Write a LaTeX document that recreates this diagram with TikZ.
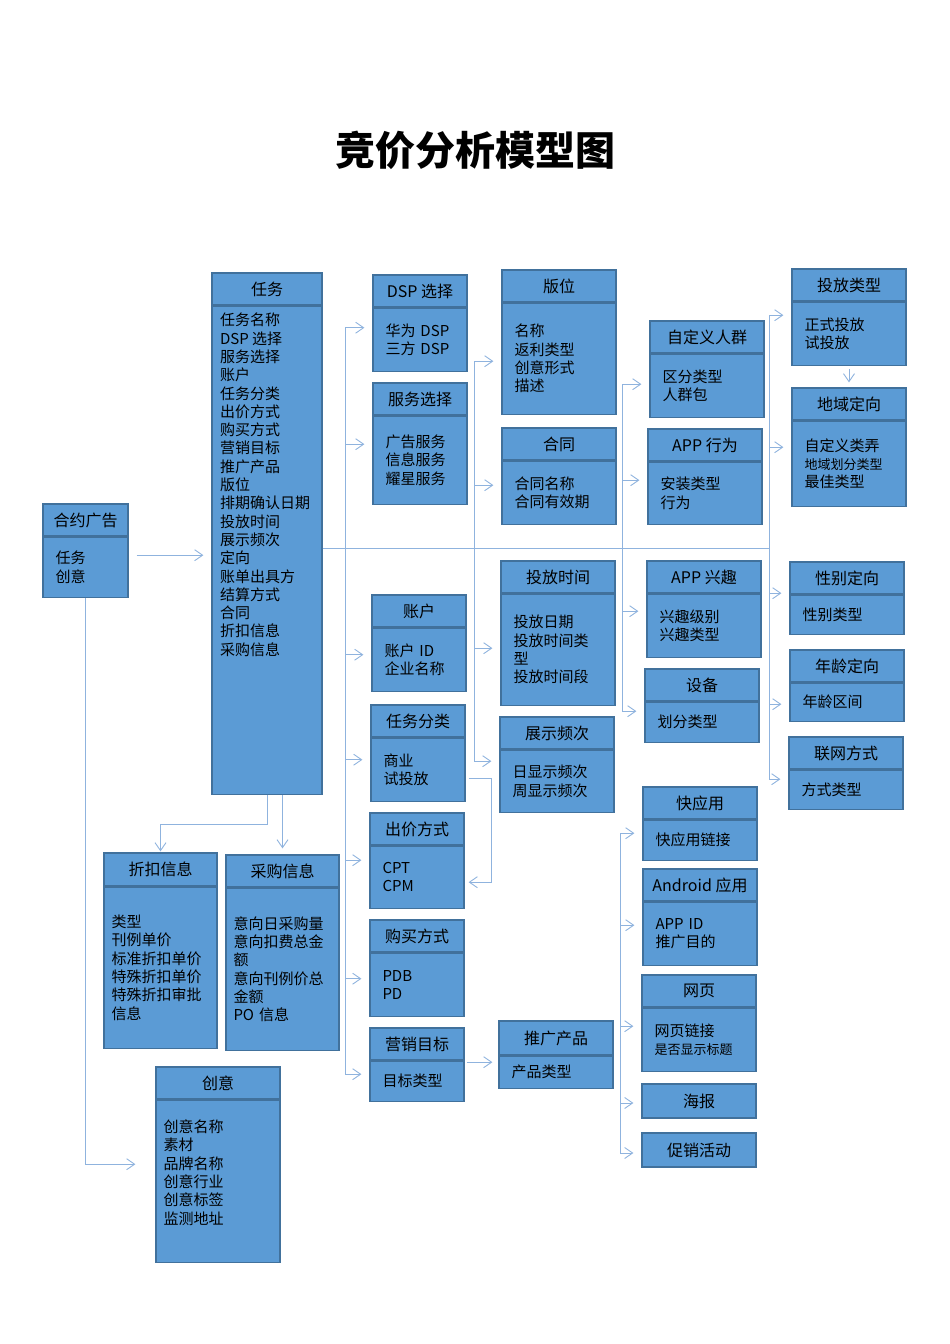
\documentclass[tikz,border=0pt]{standalone}
\usepackage{fontspec}
\setmainfont{Noto Sans CJK SC}
\usetikzlibrary{arrows.meta}
\definecolor{cardfill}{HTML}{5B9BD5}
\definecolor{cardedge}{HTML}{41719C}
\definecolor{linkblue}{HTML}{8FB3DE}
\tikzset{
  cardhead/.style={draw=cardedge, fill=cardfill, rectangle, line width=1.2pt, minimum height=32pt, inner sep=0pt, font=\fontsize{16}{19}\selectfont},
  cardbody/.style={draw=cardedge, fill=cardfill, rectangle, line width=1.2pt, anchor=north, align=left, inner xsep=12.5pt, inner ysep=0pt, font=\fontsize{15}{18.3}\selectfont},
  trunk/.style={draw=linkblue, line width=0.9pt},
  link/.style={trunk, -{Straight Barb[length=8pt,width=11pt]}, shorten >=8pt}
}

\begin{document}
\begin{tikzpicture}[x=1pt,y=-1pt]
    \useasboundingbox (0,0) rectangle (950,1344);
    \node[font=\fontsize{40}{48}\selectfont\bfseries] (title) at (475,150) {竞价分析模型图};

    % left column
    \node[cardhead, minimum width=85pt] (hy) at (85.5,520) {合约广告};
    \node[cardbody, text width=60pt, minimum height=60pt] (hyb) at (hy.south) {任务\\创意};
    \node[cardhead, minimum width=110pt] (rw) at (267,289) {任务};
    \node[cardbody, inner xsep=8pt, inner ysep=7pt, minimum height=488pt] (rwb) at (rw.south) {\parbox[t][474pt][t]{94pt}{\raggedright
      任务名称\\DSP 选择\\服务选择\\账户\\任务分类\\出价方式\\购买方式\\营销目标\\推广产品\\版位\\排期确认日期\\投放时间\\展示频次\\定向\\账单出具方\\结算方式\\合同\\折扣信息\\采购信息}};
    \node[cardhead, minimum width=113pt, minimum height=33pt] (zk) at (160.5,869.5) {折扣信息};
    \node[cardbody, inner xsep=7.5pt, text width=98pt, minimum height=161pt] (zkb) at (zk.south) {类型\\刊例单价\\标准折扣单价\\特殊折扣单价\\特殊折扣审批\\信息};
    \node[cardhead, minimum width=113pt] (cg) at (282.5,871) {采购信息};
    \node[cardbody, inner xsep=7.5pt, text width=98pt, minimum height=162pt] (cgb) at (cg.south) {意向日采购量\\意向扣费总金\\额\\意向刊例价总\\金额\\PO 信息};
    \node[cardhead, minimum width=124pt] (cy) at (218,1083) {创意};
    \node[cardbody, inner xsep=7.5pt, text width=109pt, minimum height=162pt] (cyb) at (cy.south) {创意名称\\素材\\品牌名称\\创意行业\\创意标签\\监测地址\\\mbox{}};

    % second column
    \node[cardhead, minimum width=94pt] (dsp) at (420,291) {DSP 选择};
    \node[cardbody, text width=69pt, minimum height=63pt] (dspb) at (dsp.south) {华为 DSP\\三方 DSP};
    \node[cardhead, minimum width=94pt] (fw) at (420,399) {服务选择};
    \node[cardbody, text width=69pt, minimum height=88pt] (fwb) at (fw.south) {广告服务\\信息服务\\耀星服务};
    \node[cardhead, minimum width=94pt] (zh) at (419,611) {账户};
    \node[cardbody, text width=69pt, minimum height=63pt] (zhb) at (zh.south) {账户 ID\\企业名称};
    \node[cardhead, minimum width=94pt] (fl) at (418,721) {任务分类};
    \node[cardbody, text width=69pt, minimum height=63pt] (flb) at (fl.south) {商业\\试投放};
    \node[cardhead, minimum width=94pt] (cj) at (417,829) {出价方式};
    \node[cardbody, text width=69pt, minimum height=62pt] (cjb) at (cj.south) {CPT\\CPM};
    \node[cardhead, minimum width=94pt] (gm) at (417,936) {购买方式};
    \node[cardbody, text width=69pt, minimum height=63pt] (gmb) at (gm.south) {PDB\\PD};
    \node[cardhead, minimum width=94pt] (yx) at (417,1044) {营销目标};
    \node[cardbody, text width=69pt, minimum height=40pt] (yxb) at (yx.south) {目标类型};

    % third column
    \node[cardhead, minimum width=114pt] (bw) at (559,286) {版位};
    \node[cardbody, text width=89pt, minimum height=111pt] (bwb) at (bw.south) {名称\\返利类型\\创意形式\\描述};
    \node[cardhead, minimum width=114pt] (ht) at (559,444) {合同};
    \node[cardbody, text width=89pt, minimum height=63pt] (htb) at (ht.south) {合同名称\\合同有效期};
    \node[cardhead, minimum width=114pt] (tfsj) at (558,577) {投放时间};
    \node[cardbody, text width=89pt, minimum height=111pt] (tfsjb) at (tfsj.south) {投放日期\\投放时间类\\型\\投放时间段};
    \node[cardhead, minimum width=114pt] (zs) at (557,733) {展示频次};
    \node[cardbody, text width=89pt, minimum height=62pt] (zsb) at (zs.south) {日显示频次\\周显示频次};
    \node[cardhead, minimum width=114pt, minimum height=34pt] (tg) at (556,1038) {推广产品};
    \node[cardbody, text width=89pt, minimum height=32pt] (tgb) at (tg.south) {产品类型};

    % fourth column
    \node[cardhead, minimum width=114pt] (zdy) at (707,337) {自定义人群};
    \node[cardbody, text width=89pt, minimum height=63pt] (zdyb) at (zdy.south) {区分类型\\人群包};
    \node[cardhead, minimum width=114pt] (xw) at (705,445) {APP 行为};
    \node[cardbody, text width=89pt, minimum height=62pt] (xwb) at (xw.south) {安装类型\\行为};
    \node[cardhead, minimum width=114pt] (xq) at (704,577) {APP 兴趣};
    \node[cardbody, text width=89pt, minimum height=63pt] (xqb) at (xq.south) {兴趣级别\\兴趣类型};
    \node[cardhead, minimum width=114pt] (sb) at (702,685) {设备};
    \node[cardbody, text width=89pt, minimum height=40pt] (sbb) at (sb.south) {划分类型};
    \node[cardhead, minimum width=114pt] (kyy) at (700,803) {快应用};
    \node[cardbody, text width=89pt, minimum height=40pt] (kyyb) at (kyy.south) {快应用链接};
    \node[cardhead, minimum width=114pt] (adr) at (700,885) {Android 应用};
    \node[cardbody, text width=89pt, minimum height=63pt] (adrb) at (adr.south) {APP ID\\推广目的};
    \node[cardhead, minimum width=114pt] (wy) at (699,991) {网页};
    \node[cardbody, text width=89pt, minimum height=63pt] (wyb) at (wy.south) {网页链接\\{\fontsize{13}{16}\selectfont 是否显示标题}};
    \node[cardhead, minimum width=114pt, minimum height=34pt] (hb) at (699,1101) {海报};
    \node[cardhead, minimum width=114pt, minimum height=34pt] (cx) at (699,1150) {促销活动};

    % fifth column
    \node[cardhead, minimum width=114pt] (tflx) at (849,285) {投放类型};
    \node[cardbody, text width=89pt, minimum height=63pt] (tflxb) at (tflx.south) {正式投放\\试投放};
    \node[cardhead, minimum width=114pt] (dy) at (849,404) {地域定向};
    \node[cardbody, text width=89pt, minimum height=85pt] (dyb) at (dy.south) {自定义类弄\\{\fontsize{13}{16}\selectfont 地域划分类型}\\最佳类型};
    \node[cardhead, minimum width=114pt] (xb) at (847,578) {性别定向};
    \node[cardbody, text width=89pt, minimum height=39pt] (xbb) at (xb.south) {性别类型};
    \node[cardhead, minimum width=114pt] (nl) at (847,666) {年龄定向};
    \node[cardbody, text width=89pt, minimum height=38pt] (nlb) at (nl.south) {年龄区间};
    \node[cardhead, minimum width=114pt] (lw) at (846,753) {联网方式};
    \node[cardbody, text width=89pt, minimum height=39pt] (lwb) at (lw.south) {方式类型};

    % trunks
    \coordinate (t1) at (345,0);
    \coordinate (t2) at (474,0);
    \coordinate (t3) at (622,0);
    \coordinate (t4) at (769,0);
    \coordinate (t5) at (620,0);

    \draw[link, shorten <=8pt] ([yshift=12pt]hyb.east) -- ([yshift=12pt]hyb.east -| rwb.west);
    \draw[link, shorten >=20pt] (hyb.south) |- ([yshift=17pt]cyb.west);
    \draw[link, shorten >=1pt] (rwb.south) -- ++(0,30) -| (zk.north);
    \draw[link, shorten >=6pt] (rwb.south -| cg.north) -- (cg.north);
    \draw[trunk] ([yshift=2pt]rwb.east) -- ([yshift=2pt]rwb.east -| t4);

    \draw[trunk] ([yshift=12pt]dspb.west -| t1) -- ([yshift=7pt]yxb.west -| t1);
    \draw[link] ([yshift=12pt]dspb.west -| t1) -- ([yshift=12pt]dspb.west);
    \draw[link] ([yshift=16pt]fwb.west -| t1) -- ([yshift=16pt]fwb.west);
    \draw[link] ([yshift=5pt]zhb.west -| t1) -- ([yshift=5pt]zhb.west);
    \draw[link] ([yshift=10pt]flb.west -| t1) -- ([yshift=10pt]flb.west);
    \draw[link] ([yshift=17pt]cjb.west -| t1) -- ([yshift=17pt]cjb.west);
    \draw[link] ([yshift=6pt]gmb.west -| t1) -- ([yshift=6pt]gmb.west);
    \draw[link] ([yshift=7pt]yxb.west -| t1) -- ([yshift=7pt]yxb.west);

    \draw[trunk] ([yshift=-2.5pt]bwb.west -| t2) -- ([yshift=20pt]zsb.west -| t2);
    \draw[link] ([yshift=-2.5pt]bwb.west -| t2) -- ([yshift=-2.5pt]bwb.west);
    \draw[link] ([yshift=7.5pt]htb.west -| t2) -- ([yshift=7.5pt]htb.west);
    \draw[link] ([yshift=1.5pt]tfsjb.west -| t2) -- ([yshift=1.5pt]tfsjb.west);
    \draw[link] ([yshift=20pt]zsb.west -| t2) -- ([yshift=20pt]zsb.west);

    \draw[trunk] ([yshift=1.5pt]zdyb.west -| t3) -- ([yshift=11pt]sbb.west -| t3);
    \draw[link] ([yshift=1.5pt]zdyb.west -| t3) -- ([yshift=1.5pt]zdyb.west);
    \draw[link] ([yshift=13pt]xwb.west -| t3) -- ([yshift=13pt]xwb.west);
    \draw[link] ([yshift=14.5pt]xqb.west -| t3) -- ([yshift=14.5pt]xqb.west);
    \draw[link] ([yshift=11pt]sbb.west -| t3) -- ([yshift=11pt]sbb.west);

    \draw[trunk] ([yshift=18.5pt]tflxb.west -| t4) -- ([yshift=10.5pt]lwb.west -| t4);
    \draw[link] ([yshift=18.5pt]tflxb.west -| t4) -- ([yshift=18.5pt]tflxb.west);
    \draw[link] ([yshift=16.5pt]dyb.west -| t4) -- ([yshift=16.5pt]dyb.west);
    \draw[link] ([yshift=21.5pt]xbb.west -| t4) -- ([yshift=21.5pt]xbb.west);
    \draw[link] ([yshift=-2pt]nlb.west -| t4) -- ([yshift=-2pt]nlb.west);
    \draw[link] ([yshift=10.5pt]lwb.west -| t4) -- ([yshift=10.5pt]lwb.west);
    \draw[link, shorten <=3pt, shorten >=5pt] (tflxb.south) -- (dy.north);

    \draw[trunk] ([yshift=7pt]kyyb.west -| t5) -- ([yshift=-3pt]cx.west -| t5);
    \draw[link] ([yshift=7pt]kyyb.west -| t5) -- ([yshift=7pt]kyyb.west);
    \draw[link] ([yshift=8.5pt]adrb.west -| t5) -- ([yshift=8.5pt]adrb.west);
    \draw[link] ([yshift=13.5pt]wyb.west -| t5) -- ([yshift=13.5pt]wyb.west);
    \draw[link] ([yshift=-2pt]hb.west -| t5) -- ([yshift=-2pt]hb.west);
    \draw[link] ([yshift=-3pt]cx.west -| t5) -- ([yshift=-3pt]cx.west);

    \draw[link, shorten <=3pt, shorten >=4pt] ([yshift=-8.5pt]flb.east) -- ++(26,0) |- ([yshift=-5pt]cjb.east);
    \draw[link, shorten <=2pt, shorten >=6pt] ([yshift=19pt]yxb.east) -- ([yshift=19pt]yxb.east -| tgb.west);
\end{tikzpicture}
\end{document}
